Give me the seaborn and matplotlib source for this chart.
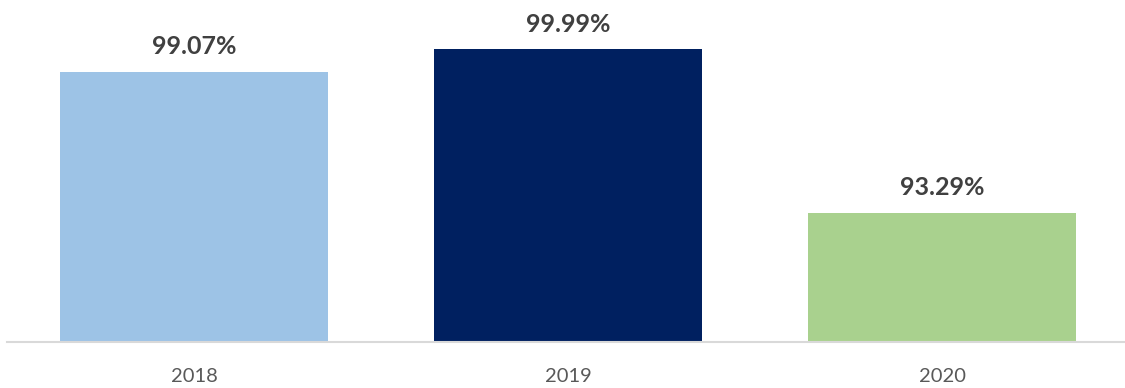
import matplotlib
matplotlib.use("Agg")
import matplotlib.pyplot as plt
import seaborn as sns
import pandas as pd

years = ["2018", "2019", "2020"]
values = [99.07, 99.99, 93.29]
colors = ["#9DC3E6", "#002060", "#A9D18E"]

sns.set_theme(style="white")
plt.rcParams["font.family"] = ["Lato", "DejaVu Sans"]

df = pd.DataFrame({"year": years, "value": values})

fig = plt.figure(figsize=(11.25, 3.88), dpi=100)
ax = fig.add_axes([7/1125, 46/388, 1122/1125, 342/388])
sns.barplot(data=df, x="year", y="value", hue="year", palette=colors,
            width=0.717, legend=False, ax=ax, saturation=1, linewidth=0)
ax.set_ylim(88, 102)
ax.set_xlim(-0.5, 2.5)
for i, v in enumerate(values):
    ax.text(i, v + 0.55, f"{v:.2f}%", ha="center", va="bottom",
            fontsize=18, fontweight="bold", color="#404040")
ax.set_xlabel("")
ax.set_ylabel("")
ax.set_yticks([])
ax.tick_params(axis="x", labelsize=14.5, colors="#595959", length=0, pad=19)
for s in ["top", "right", "left"]:
    ax.spines[s].set_visible(False)
ax.spines["bottom"].set_color("#D9D9D9")
ax.spines["bottom"].set_linewidth(1.5)
fig.savefig("out.png", dpi=100)
